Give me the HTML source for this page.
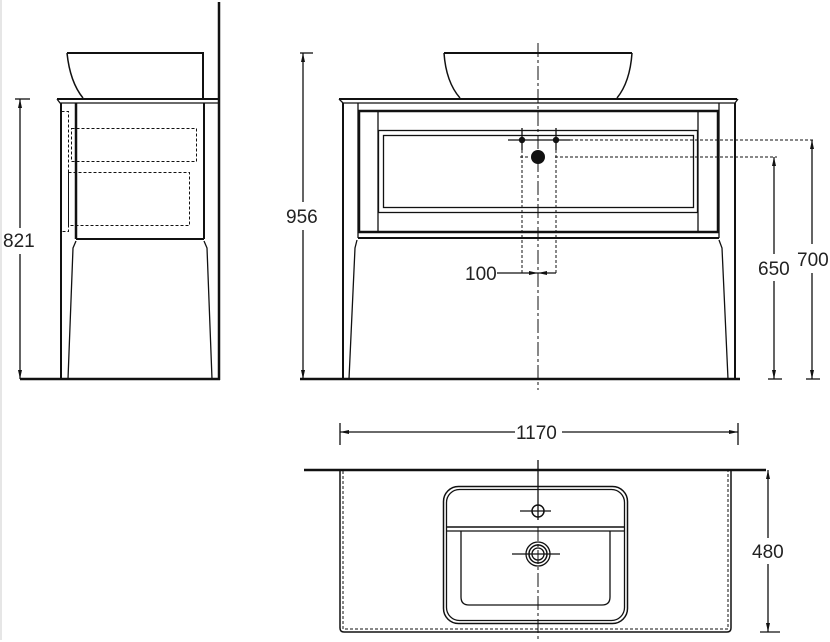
<!DOCTYPE html>
<html><head><meta charset="utf-8"><style>
html,body{margin:0;padding:0;background:#fff;width:830px;height:642px;overflow:hidden}
svg{display:block}
text{font-family:"Liberation Sans",sans-serif;font-size:19px;fill:#222}
</style></head><body>
<svg width="830" height="642" viewBox="0 0 830 642" xmlns="http://www.w3.org/2000/svg">
<rect x="0" y="0" width="830" height="642" fill="#fff"/>
<line x1="1" y1="0" x2="1" y2="640" stroke="#e6e6e6" stroke-width="2"/>
<g fill="none" stroke="#111" stroke-width="1.3">
<line x1="219" y1="2" x2="219" y2="380" stroke-width="2.5"/>
<path d="M67,53 L203,53 L203,98" stroke-width="2"/>
<path d="M67,53 Q70,82 83,98" stroke-width="1.5"/>
<path d="M57,99 L219,99" stroke-width="2"/>
<path d="M57,99 L60,103 L219,103"/>
<line x1="61" y1="103" x2="61" y2="379" stroke-width="2"/>
<line x1="76" y1="103" x2="76" y2="239" stroke-width="2.5"/>
<line x1="204" y1="103" x2="204" y2="239" stroke-width="2"/>
<line x1="76" y1="239" x2="204" y2="239" stroke-width="2"/>
<path d="M76,241 L73,248 L68,379" />
<path d="M204,241 L207,248 L212,379" />
<line x1="20" y1="379" x2="220" y2="379" stroke-width="2.5"/>
<g stroke-dasharray="3,2" stroke-width="1">
<rect x="71.5" y="128.5" width="125" height="33"/>
<rect x="68.5" y="172.5" width="121" height="53"/>
<rect x="61.5" y="111.5" width="7" height="120"/>
</g>
<line x1="20" y1="99" x2="20" y2="228"/><line x1="20" y1="254" x2="20" y2="379"/>
<line x1="15" y1="99" x2="30" y2="99"/>
<line x1="303" y1="53" x2="303" y2="202"/><line x1="303" y1="230" x2="303" y2="379"/>
<line x1="300" y1="53" x2="313" y2="53"/>
<line x1="300" y1="379" x2="740" y2="379" stroke-width="2.5"/>
<line x1="538" y1="43" x2="538" y2="390" stroke-dasharray="14,3,3,3" stroke-width="1"/>
<path d="M444,53 L632,53" stroke-width="2"/>
<path d="M444,53 Q446,82 460,98 M632,53 Q630,82 617,98" stroke-width="1.5"/>
<path d="M339,99 L737,99" stroke-width="2"/>
<path d="M339,99 L343,103 L735,103 L738,99"/>
<line x1="343" y1="103" x2="343" y2="379" stroke-width="2"/>
<line x1="735" y1="103" x2="735" y2="379" stroke-width="2"/>
<line x1="358" y1="103" x2="358" y2="238"/>
<line x1="719" y1="103" x2="719" y2="238"/>
<line x1="358" y1="111" x2="719" y2="111" stroke-width="1.5"/>
<rect x="359" y="111" width="359" height="121" stroke-width="2.5"/>
<line x1="358" y1="238" x2="719" y2="238" stroke-width="2"/>
<line x1="378" y1="112" x2="378" y2="231"/>
<line x1="698" y1="112" x2="698" y2="231"/>
<rect x="378.5" y="130.5" width="319" height="82"/>
<rect x="383.5" y="135.5" width="310" height="72"/>
<path d="M357,240 L355,248 L349,379"/>
<path d="M719,240 L722,248 L728,379"/>
<line x1="508" y1="140" x2="570" y2="140"/>
<line x1="522" y1="128" x2="522" y2="150"/><line x1="556" y1="128" x2="556" y2="150"/>
<g stroke-dasharray="3,2" stroke-width="1">
<line x1="570" y1="140" x2="815" y2="140"/>
<line x1="555" y1="157" x2="777" y2="157"/>
<line x1="522" y1="150" x2="522" y2="273"/>
<line x1="556" y1="150" x2="556" y2="273"/>
<line x1="520" y1="157" x2="530" y2="157"/>
</g>
<line x1="497" y1="273" x2="556" y2="273"/>
<line x1="774" y1="157" x2="774" y2="254"/><line x1="774" y1="281" x2="774" y2="379"/>
<line x1="768" y1="379" x2="782" y2="379"/>
<line x1="812" y1="140" x2="812" y2="244"/><line x1="812" y1="273" x2="812" y2="379"/>
<line x1="806" y1="379" x2="820" y2="379"/>
<line x1="340" y1="432" x2="515" y2="432"/><line x1="562" y1="432" x2="738" y2="432"/>
<line x1="340" y1="423" x2="340" y2="445"/><line x1="738" y1="423" x2="738" y2="445"/>
<line x1="304" y1="470" x2="766" y2="470" stroke-width="2.5"/>
<path d="M340,470 L340,628 Q340,632 344,632 L727,632 Q731,632 731,628 L731,470" stroke-width="1.5"/>
<path d="M343,471 L343,629 L728,629 L728,471" stroke-dasharray="3,2" stroke-width="1"/>
<rect x="443.5" y="486.5" width="184" height="137" rx="15" stroke-width="1.5"/>
<rect x="446.5" y="489.5" width="178" height="131" rx="13"/>
<line x1="446" y1="527" x2="625" y2="527" stroke-width="1.5"/>
<line x1="447" y1="531" x2="624" y2="531"/>
<path d="M461,531 L461,597 Q461,605 469,605 L602,605 Q610,605 610,597 L610,531"/>
<circle cx="538" cy="511" r="6" stroke-width="1.5"/>
<line x1="520" y1="511" x2="551" y2="511"/>
<line x1="538" y1="460" x2="538" y2="520"/>
<circle cx="538" cy="554" r="12"/>
<circle cx="538" cy="554" r="9" stroke-width="1.5"/>
<circle cx="538" cy="554" r="6"/>
<line x1="512" y1="554" x2="560" y2="554"/>
<line x1="538" y1="527" x2="538" y2="640" stroke-dasharray="14,3,3,3" stroke-width="1"/>
<line x1="768" y1="470" x2="768" y2="538"/><line x1="768" y1="564" x2="768" y2="632"/>
<line x1="760" y1="632" x2="780" y2="632"/>
</g>
<g fill="#111">
<path d="M20,99 l-2,9 h4z M20,379 l-2,-9 h4z"/>
<path d="M303,53 l-2,9 h4z M303,379 l-2,-9 h4z"/>
<path d="M774,157 l-2,9 h4z M774,379 l-2,-9 h4z"/>
<path d="M812,140 l-2,9 h4z M812,379 l-2,-9 h4z"/>
<path d="M538,273 l-9,-2 v4z M538,273 l9,-2 v4z"/>
<path d="M340,432 l9,-2 v4z M738,432 l-9,-2 v4z"/>
<path d="M768,470 l-2,9 h4z M768,632 l-2,-9 h4z"/>
<circle cx="522" cy="140" r="3.2"/><circle cx="556" cy="140" r="3.2"/>
<circle cx="538" cy="157" r="7"/>
</g>
<text x="3" y="247">821</text>
<text x="286" y="223">956</text>
<text x="465" y="280">100</text>
<text x="758" y="275">650</text>
<text x="797" y="266">700</text>
<text x="516" y="439">1170</text>
<text x="752" y="558">480</text>
</svg>
</body></html>
